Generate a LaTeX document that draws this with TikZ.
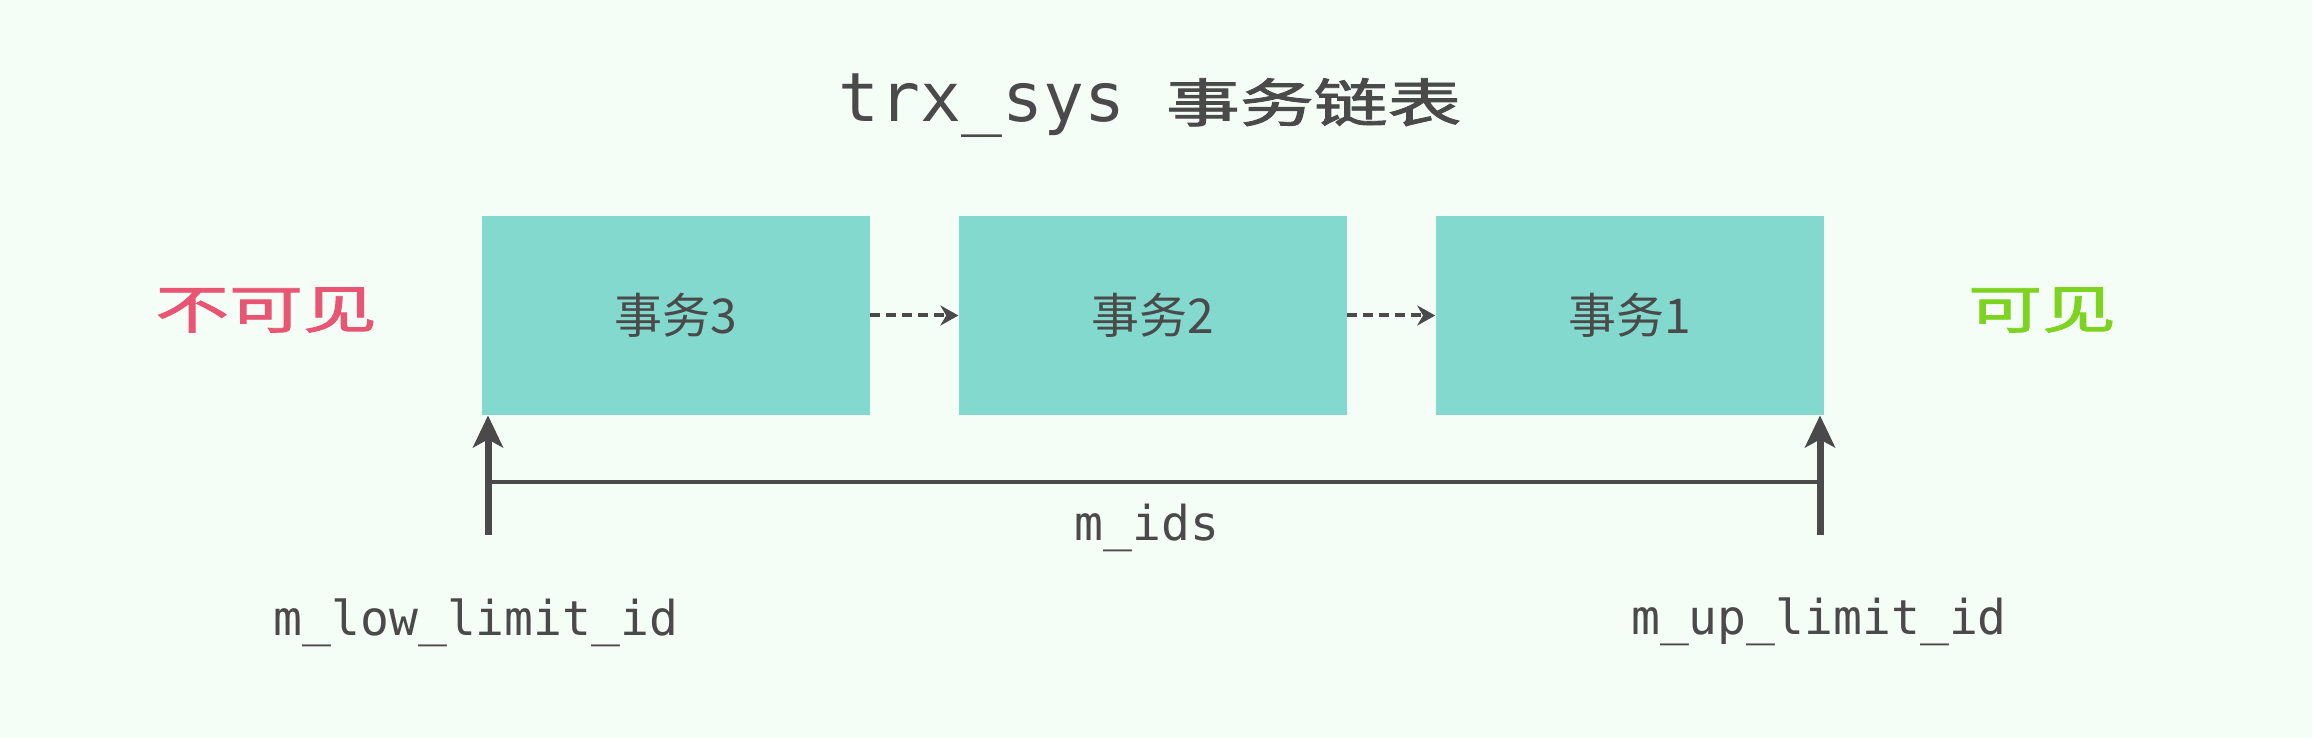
\documentclass[tikz,border=0pt]{standalone}
\usepackage{fontspec}
\setmonofont{DejaVu Sans Mono}
\newfontfamily\cjk{Noto Sans CJK SC}
\newfontfamily\cjkhand[FakeBold=1.6]{Noto Sans CJK SC}
\usetikzlibrary{positioning,arrows.meta}

\definecolor{paper}{HTML}{F4FEF6}
\definecolor{boxteal}{HTML}{83D9CE}
\definecolor{textgray}{HTML}{4A4A4A}
\definecolor{invisred}{HTML}{E85674}
\definecolor{visgreen}{HTML}{7ED321}

\tikzset{
  trxbox/.style={fill=boxteal, minimum width=194pt, minimum height=99.5pt, inner sep=0pt,
    text=textgray, font=\cjk\fontsize{24pt}{28pt}\selectfont},
  linkarrow/.style={draw=textgray, line width=2pt, dash pattern=on 5pt off 3pt,
    -{Stealth[length=9pt,width=10pt]}},
  limitarrow/.style={draw=textgray, line width=3.5pt, -{Stealth[length=16pt,width=15pt,inset=4pt]}},
  monolabel/.style={text=textgray, font=\ttfamily\fontsize{24pt}{28pt}\selectfont, anchor=base},
  handlabel/.style={font=\cjkhand\fontsize{26pt}{30pt}\selectfont},
}

\begin{document}
\begin{tikzpicture}[x=0.5pt,y=0.5pt] % one unit = one pixel of the reference
\fill[paper] (0,0) rectangle (2312,738); % background
\useasboundingbox (0,0) rectangle (2312,738);

% title
\node[anchor=base, text=textgray] (title) at (1150,616)
  {{\ttfamily\fontsize{34pt}{40pt}\selectfont trx\_sys }{\cjkhand\fontsize{26pt}{30pt}\selectfont\scalebox{1.42}[1]{事务链表}}};

% transaction list
\node[trxbox] (trx3) at (676,422.5) {事务3};
\node[trxbox, right=44pt of trx3] (trx2) {事务2};
\node[trxbox, right=44pt of trx2] (trx1) {事务1};
\draw[linkarrow] (trx3) -- (trx2);
\draw[linkarrow] (trx2) -- (trx1);

% visibility
\node[handlabel, text=invisred] (invis) at (266,428) {\scalebox{1.42}[1]{不可见}};
\node[handlabel, text=visgreen] (vis) at (2042,428) {\scalebox{1.42}[1]{可见}};

% limits
\coordinate (lowfoot) at (488,203);
\coordinate (upfoot) at (1820,203);
\coordinate (lowmid) at (488,256);
\coordinate (upmid) at (1820,256);
\draw[limitarrow] (lowfoot) -- (lowfoot |- trx3.south);
\draw[limitarrow] (upfoot) -- (upfoot |- trx1.south);
\draw[textgray, line width=2pt] (lowmid) -- (upmid);

\node[monolabel] (ids) at (1147,197) {m\_ids};
\node[monolabel] (lowlimit) at (476,102) {m\_low\_limit\_id};
\node[monolabel] (uplimit) at (1819,103) {m\_up\_limit\_id};
\end{tikzpicture}
\end{document}
